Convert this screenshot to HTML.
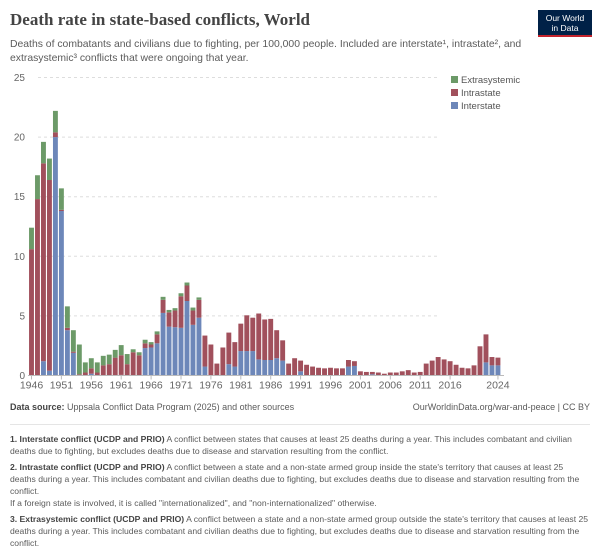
<!DOCTYPE html>
<html><head><meta charset="utf-8"><style>
body{margin:0;width:600px;height:552px;background:#fff;font-family:"Liberation Sans",sans-serif;overflow:hidden;position:relative}
.t{position:absolute;white-space:nowrap}
</style></head><body>
<div class="t" style="left:10px;top:10px;font-family:'Liberation Serif',serif;font-size:17px;font-weight:bold;color:#444">Death rate in state-based conflicts, World</div>
<div style="position:absolute;left:538px;top:10px;width:54px;height:27px;background:#002147;border-bottom:2px solid #c3232c;color:#fff;font-size:8.5px;line-height:10px;text-align:center;padding-top:3px;box-sizing:border-box">Our World<br>in Data</div>
<div class="t" style="left:10px;top:38px;font-size:10.4px;color:#5b5b5b;line-height:13.5px">Deaths of combatants and civilians due to fighting, per 100,000 people. Included are interstate¹, intrastate², and<br>extrasystemic³ conflicts that were ongoing that year.</div>
<svg id="c" width="600" height="400" style="position:absolute;left:0;top:0" font-family="Liberation Sans, sans-serif"></svg>
<div class="t" style="left:10px;top:402px;font-size:9px;color:#5b5b5b"><b style="color:#444">Data source:</b> Uppsala Conflict Data Program (2025) and other sources</div>
<div class="t" style="right:10px;top:402px;font-size:9px;color:#5b5b5b">OurWorldinData.org/war-and-peace | CC BY</div>
<div style="position:absolute;left:10px;top:424px;width:580px;border-top:1px solid #e5e5e5"></div>
<div style="position:absolute;left:10px;top:433px;width:592px;font-size:8.6px;line-height:12px;color:#5b5b5b">
<div style="margin-bottom:4px"><b style="color:#444">1. Interstate conflict (UCDP and PRIO)</b> A conflict between states that causes at least 25 deaths during a year. This includes combatant and civilian<br>deaths due to fighting, but excludes deaths due to disease and starvation resulting from the conflict.</div>
<div style="margin-bottom:4px"><b style="color:#444">2. Intrastate conflict (UCDP and PRIO)</b> A conflict between a state and a non-state armed group inside the state's territory that causes at least 25<br>deaths during a year. This includes combatant and civilian deaths due to fighting, but excludes deaths due to disease and starvation resulting from the<br>conflict.<br>If a foreign state is involved, it is called "internationalized", and "non-internationalized" otherwise.</div>
<div><b style="color:#444">3. Extrasystemic conflict (UCDP and PRIO)</b> A conflict between a state and a non-state armed group outside the state's territory that causes at least 25<br>deaths during a year. This includes combatant and civilian deaths due to fighting, but excludes deaths due to disease and starvation resulting from the<br>conflict.</div>
</div>
<script>
var d=[[12.4,10.6,0],[16.8,14.8,0],[19.6,17.8,1.2],[18.2,16.4,0.4],[22.2,20.4,20],[15.7,13.9,13.8],[5.8,4.0,3.8],[3.8,2.0,1.9],[2.6,0.1,0],[1.1,0.25,0],[1.45,0.6,0.15],[1.1,0.25,0],[1.65,0.85,0],[1.75,0.95,0],[2.15,1.5,0],[2.55,1.7,0.05],[1.8,0.95,0],[2.2,1.95,0],[1.95,1.7,0],[3.0,2.7,2.3],[2.8,2.6,2.35],[3.7,3.45,2.7],[6.6,6.35,5.25],[5.5,5.3,4.1],[5.65,5.45,4.05],[6.9,6.65,4.0],[7.8,7.55,6.25],[5.7,5.45,4.25],[6.55,6.35,4.85],[3.35,3.35,0.75],[2.6,2.6,0],[1.0,1.0,0],[2.35,2.35,0],[3.6,3.6,0.95],[2.8,2.8,0.75],[4.35,4.35,2.05],[5.05,5.05,2.05],[4.85,4.85,2.05],[5.2,5.2,1.35],[4.7,4.7,1.3],[4.75,4.75,1.3],[3.8,3.8,1.45],[2.95,2.95,1.25],[1.0,1.0,0],[1.45,1.45,0],[1.25,1.25,0.35],[0.9,0.9,0],[0.75,0.75,0],[0.65,0.65,0],[0.6,0.6,0],[0.65,0.65,0],[0.6,0.6,0],[0.6,0.6,0],[1.3,1.3,0.75],[1.2,1.2,0.8],[0.35,0.35,0],[0.3,0.3,0],[0.3,0.3,0.1],[0.25,0.25,0],[0.15,0.15,0],[0.25,0.25,0],[0.25,0.25,0],[0.35,0.35,0],[0.45,0.45,0],[0.25,0.25,0],[0.3,0.3,0],[1.0,1.0,0],[1.25,1.25,0],[1.55,1.55,0],[1.35,1.35,0],[1.2,1.2,0],[0.9,0.9,0],[0.65,0.65,0],[0.6,0.6,0],[0.85,0.85,0],[2.45,2.45,0],[3.45,3.45,1.1],[1.55,1.55,0.85],[1.5,1.5,0.85]];
var s='',y0=375.5,k=11.92,x0=31.5,dx=5.98,bw=4.9;
for(var v=0;v<=25;v+=5){var y=y0-v*k;s+='<line x1="38" x2="437" y1="'+y+'" y2="'+y+'" stroke="#ddd" stroke-dasharray="3,3"/><text x="25" y="'+(y+3.5)+'" font-size="10" fill="#666" text-anchor="end">'+v+'</text>';}
function r(x,a,b,c){if(b-a<=0.001)return '';return '<rect x="'+(x-bw/2)+'" y="'+(y0-b*k)+'" width="'+bw+'" height="'+((b-a)*k)+'" fill="'+c+'"/>';}
d.forEach(function(e,i){var x=x0+i*dx;s+=r(x,0,e[2],'#6d87b9')+r(x,e[2],e[1],'#a1505c')+r(x,e[1],e[0],'#6c9a68');});
s+='<line x1="28" x2="504" y1="'+y0+'" y2="'+y0+'" stroke="#bbb"/>';
[1946,1951,1956,1961,1966,1971,1976,1981,1986,1991,1996,2001,2006,2011,2016,2024].forEach(function(yr){var x=x0+(yr-1946)*dx;s+='<line x1="'+x+'" x2="'+x+'" y1="'+y0+'" y2="'+(y0+4)+'" stroke="#bbb"/><text x="'+x+'" y="'+(y0+13)+'" font-size="10.5" fill="#666" text-anchor="middle">'+yr+'</text>';});
[['Extrasystemic','#6c9a68',80],['Intrastate','#a1505c',93],['Interstate','#6d87b9',106]].forEach(function(l){s+='<rect x="451" y="'+(l[2]-4)+'" width="7" height="7" fill="'+l[1]+'"/><text x="461" y="'+(l[2]+3)+'" font-size="9.5" fill="#555">'+l[0]+'</text>';});
document.getElementById('c').innerHTML=s;
</script>
</body></html>
